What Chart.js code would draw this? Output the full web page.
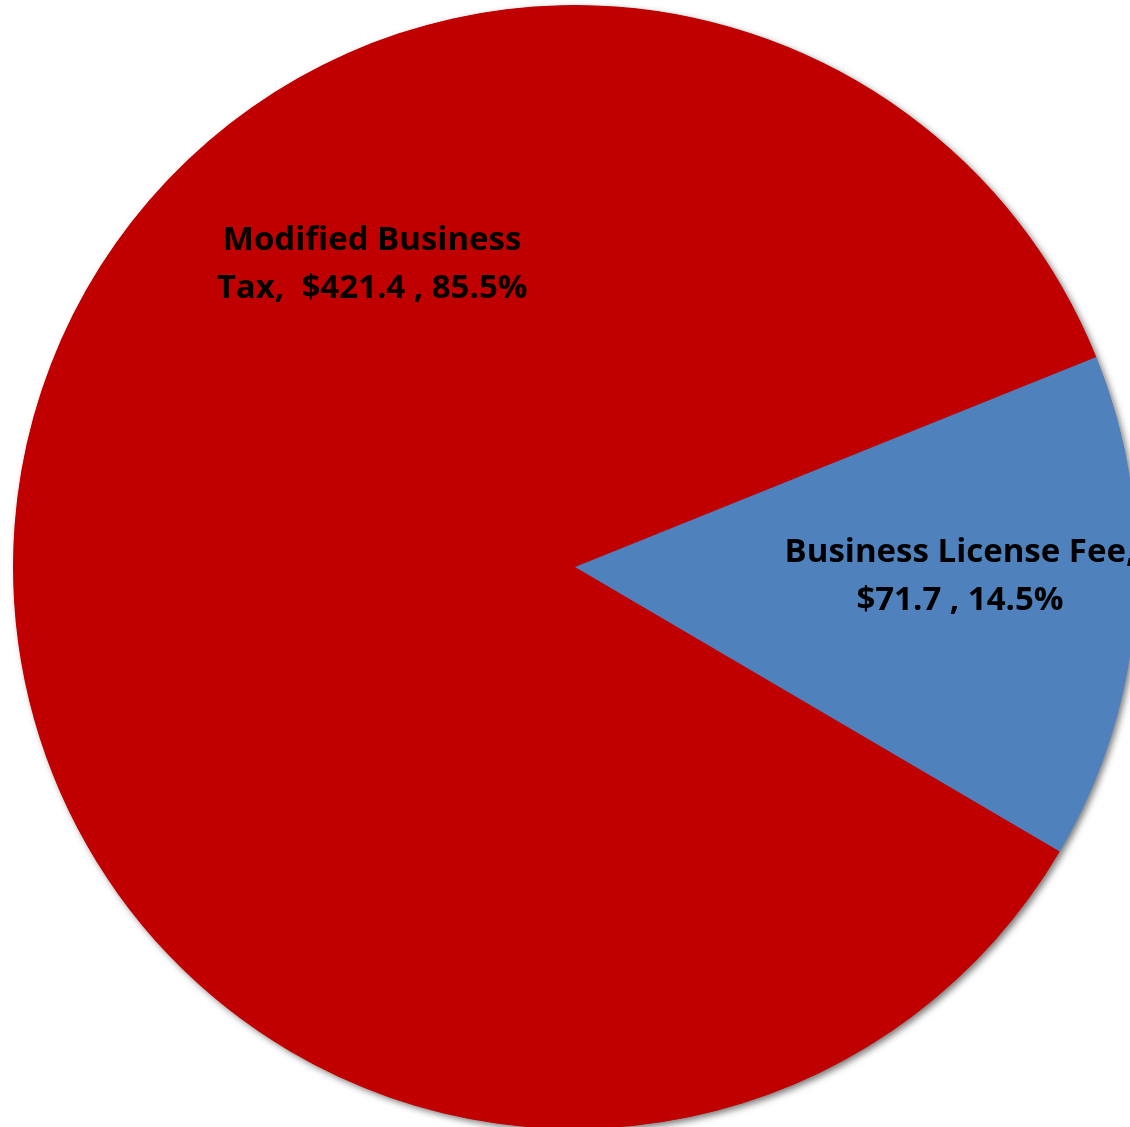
<!DOCTYPE html>
<html>
<head>
<meta charset="utf-8">
<script src="https://cdn.jsdelivr.net/npm/chart.js@4/dist/chart.umd.min.js"></script>
<style>
    html, body { margin: 0; padding: 0; background: #fff; overflow: hidden; }
    #wrap { position: absolute; left: 0; top: 0; }
    canvas { display: block; }
</style>
</head>
<body>
<div id="wrap"><canvas id="revenuePie" width="1150" height="1134"></canvas></div>
<script>
// Revenue split, millions of dollars
const categories = ['Modified Business Tax', 'Business License Fee'];
const amounts = [421.4, 71.7];
const sliceColors = ['#C00000', '#4F81BD'];
// words on the first line of each wrapped label
const wrapAfter = [2, 3];

const total = amounts.reduce((a, b) => a + b, 0);

function labelLines(i) {
    const pct = (amounts[i] / total * 100).toFixed(1) + '%';
    const words = (categories[i] + ',').split(' ');
    const first = words.slice(0, wrapAfter[i]).join(' ');
    const rest = words.slice(wrapAfter[i]).join(' ');
    const tail = '$' + amounts[i].toFixed(1) + ' , ' + pct;
    return [first, rest ? rest + '  ' + tail : tail];
}

// Soft drop shadow under the whole disc, drawn once before the slices
const discShadow = {
    id: 'discShadow',
    beforeDatasetsDraw(chart) {
        const arc = chart.getDatasetMeta(0).data[0];
        if (!arc) return;
        const ctx = chart.ctx;
        ctx.save();
        ctx.shadowColor = 'rgba(0,0,0,0.55)';
        ctx.shadowBlur = 7;
        ctx.shadowOffsetX = 3;
        ctx.shadowOffsetY = 3;
        ctx.beginPath();
        ctx.arc(arc.x, arc.y, arc.outerRadius - 0.5, 0, Math.PI * 2);
        ctx.fillStyle = sliceColors[0];
        ctx.fill();
        ctx.restore();
    }
};

// Two-line data labels, placed relative to the pie centre in radius units
const sliceLabels = {
    id: 'sliceLabels',
    afterDatasetsDraw(chart, args, opts) {
        const meta = chart.getDatasetMeta(0);
        const ctx = chart.ctx;
        ctx.save();
        ctx.font = opts.font;
        ctx.fillStyle = opts.color;
        ctx.textAlign = 'center';
        ctx.textBaseline = 'middle';
        meta.data.forEach((arc, i) => {
            const off = opts.offsets[i];
            const cx = arc.x + off[0] * arc.outerRadius;
            const cy = arc.y + off[1] * arc.outerRadius;
            const lines = labelLines(i);
            lines.forEach((line, k) => {
                const y = cy + (k - (lines.length - 1) / 2) * opts.lineHeight;
                ctx.fillText(line, cx, y);
            });
        });
        ctx.restore();
    }
};

new Chart(document.getElementById('revenuePie'), {
    type: 'pie',
    data: {
        labels: categories,
        datasets: [{
            data: amounts,
            backgroundColor: sliceColors,
            borderWidth: 0,
            hoverOffset: 0
        }]
    },
    options: {
        responsive: false,
        animation: false,
        rotation: 120.4,
        layout: { padding: { top: 5, bottom: 5, left: 0, right: 0 } },
        plugins: {
            legend: { display: false },
            tooltip: { enabled: false },
            sliceLabels: {
                font: 'bold 33px "Open Sans", Lato, sans-serif',
                color: '#000',
                lineHeight: 48,
                offsets: [[-0.361, -0.5375], [0.685, 0.0175]]
            }
        }
    },
    plugins: [discShadow, sliceLabels]
});
</script>
</body>
</html>
